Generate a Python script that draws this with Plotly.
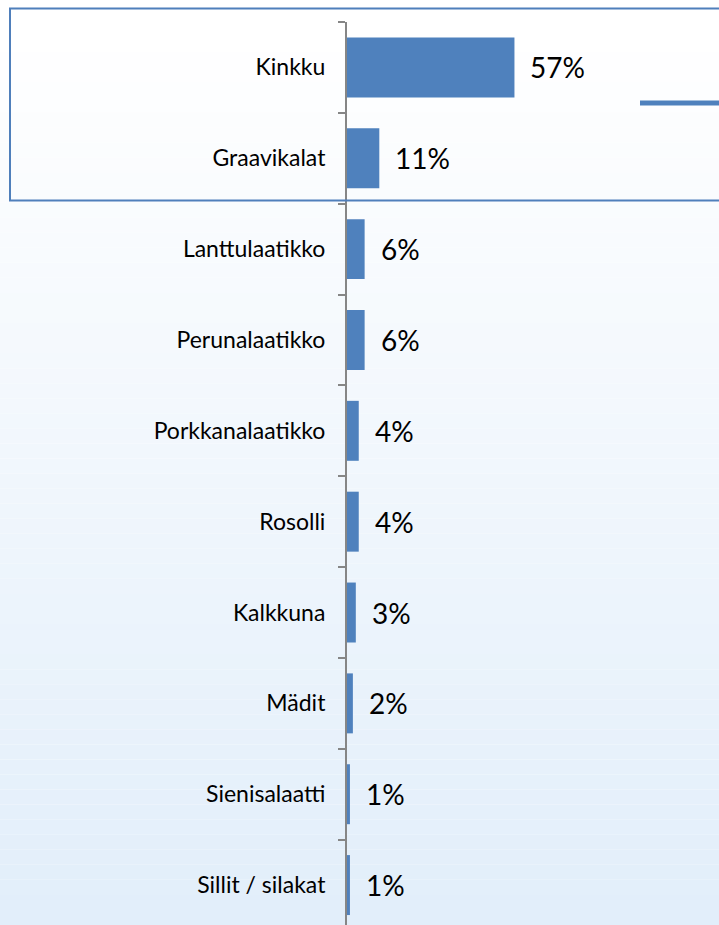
import plotly.graph_objects as go

categories = ["Kinkku", "Graavikalat", "Lanttulaatikko", "Perunalaatikko",
              "Porkkanalaatikko", "Rosolli", "Kalkkuna", "Mädit",
              "Sienisalaatti", "Sillit / silakat"]
values = [57, 11, 6, 6, 4, 4, 3, 2, 1, 1]
value_labels = [f"{v}%" for v in values]

W, H = 719, 925
BAR = "#4F81BD"

fig = go.Figure()
fig.add_trace(go.Bar(
    y=categories, x=values, orientation="h",
    marker=dict(color=BAR, line=dict(width=0)),
    width=0.66, hoverinfo="skip",
))

annotations = []
for c, v, t in zip(categories, values, value_labels):
    annotations.append(dict(
        x=v, y=c, xref="x", yref="y", text=t, showarrow=False,
        xanchor="left", yanchor="middle", xshift=14, yshift=0,
        font=dict(family="Lato", size=28, color="#000000"),
    ))

# background gradient bands (white top -> light blue bottom)
shapes = []
n = 60
top = (255, 255, 255)
bot = (226, 238, 250)
for i in range(n):
    f = i / (n - 1)
    r = int(round(top[0] + (bot[0] - top[0]) * f))
    g = int(round(top[1] + (bot[1] - top[1]) * f))
    b = int(round(top[2] + (bot[2] - top[2]) * f))
    y1 = 1 - i / n
    y0 = 1 - (i + 1) / n
    shapes.append(dict(type="rect", xref="paper", yref="paper",
                       x0=-2, x1=2, y0=y0, y1=y1,
                       fillcolor=f"rgb({r},{g},{b})", line=dict(width=0),
                       layer="below"))

PT = 21.5
PH = H - PT
PW = W - 347


def py(y_px):
    return (H - y_px) / PH


def px(x_px):
    return (x_px - 347) / PW


# highlight box around top two rows
shapes.append(dict(type="rect", xref="paper", yref="paper",
                   x0=px(10), x1=1.2, y0=py(200), y1=py(8),
                   line=dict(color="#4F7FBB", width=2), fillcolor="rgba(0,0,0,0)",
                   layer="above"))
# blue segment at right
shapes.append(dict(type="line", xref="paper", yref="paper",
                   x0=px(640), x1=1.1, y0=py(102.5), y1=py(102.5),
                   line=dict(color=BAR, width=5), layer="above"))

fig.update_layout(
    width=W, height=H,
    margin=dict(l=347, r=0, t=PT, b=0, pad=0),
    paper_bgcolor="#ffffff", plot_bgcolor="rgba(0,0,0,0)",
    showlegend=False,
    shapes=shapes,
    annotations=annotations,
    xaxis=dict(range=[0, (W - 348) / (167 / 57)], visible=False, fixedrange=True),
    yaxis=dict(
        type="category",
        range=[-0.5 + PH / 90.9, -0.5],
        showline=True, linecolor="#868686", linewidth=2,
        ticks="outside", ticklen=7, tickcolor="#868686", tickwidth=2,
        tickson="boundaries",
        tickfont=dict(family="Lato", size=23, color="#000000"),
        ticklabelstandoff=15,
        showgrid=False, zeroline=False, fixedrange=True,
    ),
)

fig.write_html(
    "out.html",
    config={"displayModeBar": False},
    post_script="document.body.style.margin='0';document.body.style.overflow='hidden';",
)
